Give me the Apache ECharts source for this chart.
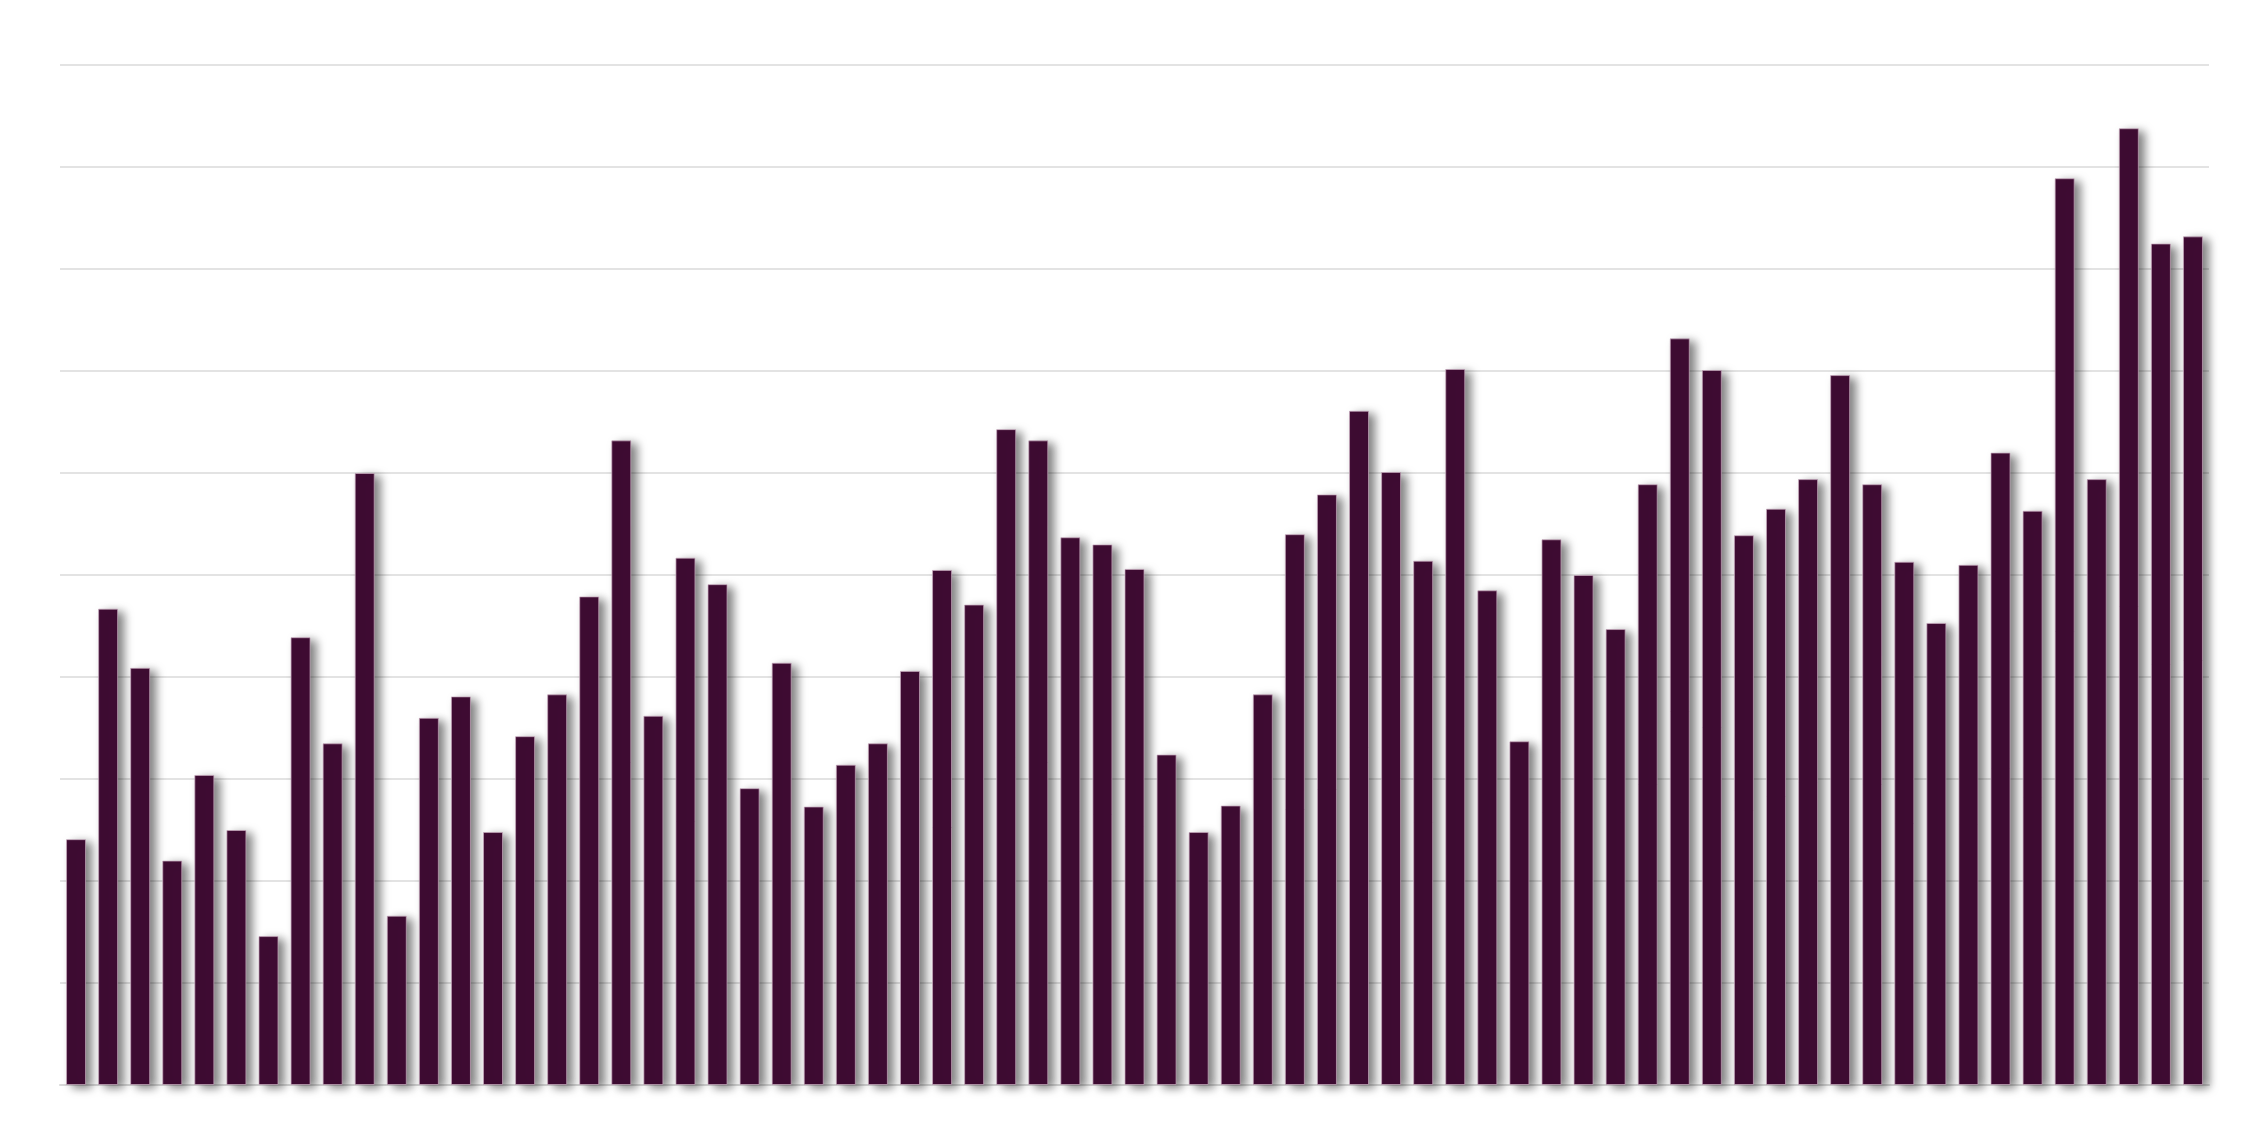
<!DOCTYPE html>
<html>
<head>
<meta charset="utf-8">
<script src="https://cdn.jsdelivr.net/npm/echarts@6/dist/echarts.min.js"></script>
<style>
  html, body { margin: 0; padding: 0; background: #fff; }
  #chart { width: 2257px; height: 1122px; }
</style>
</head>
<body>
<div id="chart"></div>
<script>
// one bar per category (grid lines every 10)
var categories = [];
for (var i = 1; i <= 67; i++) categories.push(String(i));

var values = [
  24.1, 46.7, 40.9, 22.0, 30.4, 25.0, 14.6, 43.9, 33.5, 60.0,
  16.6, 36.0, 38.1, 24.8, 34.2, 38.3, 47.9, 63.2, 36.2, 51.7,
  49.1, 29.1, 41.4, 27.3, 31.4, 33.5, 40.6, 50.5, 47.1, 64.3,
  63.2, 53.7, 53.0, 50.6, 32.4, 24.8, 27.4, 38.3, 54.0, 57.9,
  66.1, 60.1, 51.4, 70.2, 48.5, 33.7, 53.5, 50.0, 44.7, 58.9,
  73.2, 70.1, 53.9, 56.5, 59.4, 69.6, 58.9, 51.3, 45.3, 51.0,
  62.0, 56.3, 88.9, 59.4, 93.8, 82.5, 83.2
];

var yMin = 0, yMax = 100, yStep = 10;

var chart = echarts.init(document.getElementById('chart'));
var option = {
    animation: false,
    grid: {
        left: 60,
        right: 48,
        top: 65,
        bottom: 37
    },
    xAxis: {
        type: 'category',
        data: categories,
        axisTick: {show: false},
        axisLabel: {show: false},
        axisLine: {
            show: true,
            lineStyle: {color: '#d9d9d9', width: 2}
        }
    },
    yAxis: {
        type: 'value',
        min: yMin,
        max: yMax,
        interval: yStep,
        axisLabel: {show: false},
        axisTick: {show: false},
        axisLine: {show: false},
        splitLine: {
            lineStyle: {color: '#e3e3e3', width: 2}
        }
    },
    series: [
        {
            type: 'bar',
            data: values,
            barWidth: 20,
            itemStyle: {
                color: '#3f0c33',
                borderColor: 'rgba(200,170,190,0.7)',
                borderWidth: 1,
                shadowColor: 'rgba(0,0,0,0.5)',
                shadowBlur: 10,
                shadowOffsetX: 6,
                shadowOffsetY: 3
            }
        }
    ]
};
chart.setOption(option);
</script>
</body>
</html>
